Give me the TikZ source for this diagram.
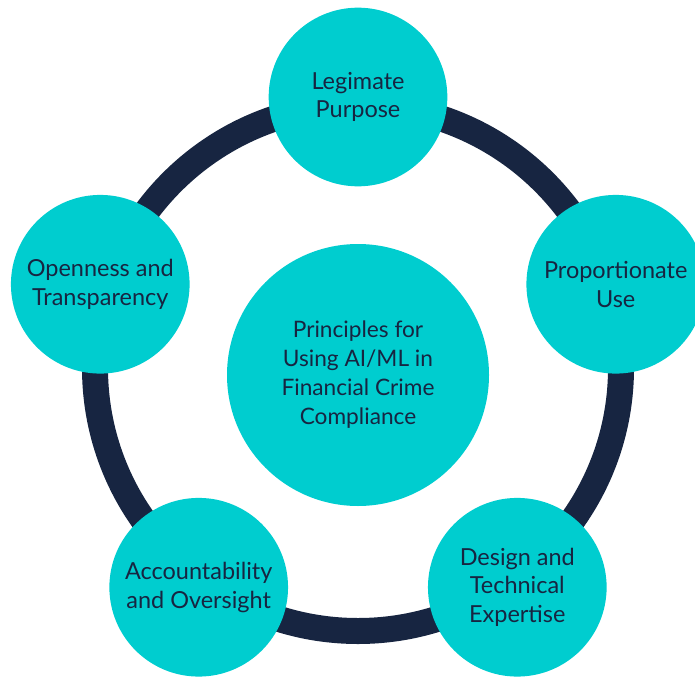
\documentclass[tikz,border=0pt]{standalone}
\usepackage{fontspec}
\setmainfont{Lato}
\definecolor{navy}{HTML}{172541}
\definecolor{aqua}{HTML}{00CDCF}

\begin{document}
\begin{tikzpicture}[x=0.75pt, y=0.75pt, line join=round, line cap=round,
	principle/.style={circle, fill=aqua, minimum size=134pt, inner sep=0pt, align=center,
		text=navy, font=\fontsize{17.6}{21.4}\selectfont},
	hub/.style={principle, minimum size=196.5pt, font=\fontsize{17}{21.75}\selectfont}]
	\def\rring{263} \def\rsat{271} % ring and satellite radii
	\useasboundingbox (0,0) rectangle (695,676);
	\clip (0,0) rectangle (695,676);
	\coordinate (ring) at (358,308);
	\draw[navy, line width=19.5pt] (ring) circle[radius=\rring];
	\node[hub] (hub) at (358,301) {Principles for\\Using AI/ML in\\Financial Crime\\Compliance};
	% five principles round the ring
	\foreach \ang/\nm/\txt in {90/legit/{Legimate\\Purpose},
		18/prop/{Proportionate\\Use},
		-54/design/{Design and\\Technical\\Expertise},
		234/account/{Accountability\\and Oversight},
		162/open/{Openness and\\Transparency}}
		\node[principle] (\nm) at ([shift={(\ang:\rsat)}]ring) {\txt};
\end{tikzpicture}
\end{document}
